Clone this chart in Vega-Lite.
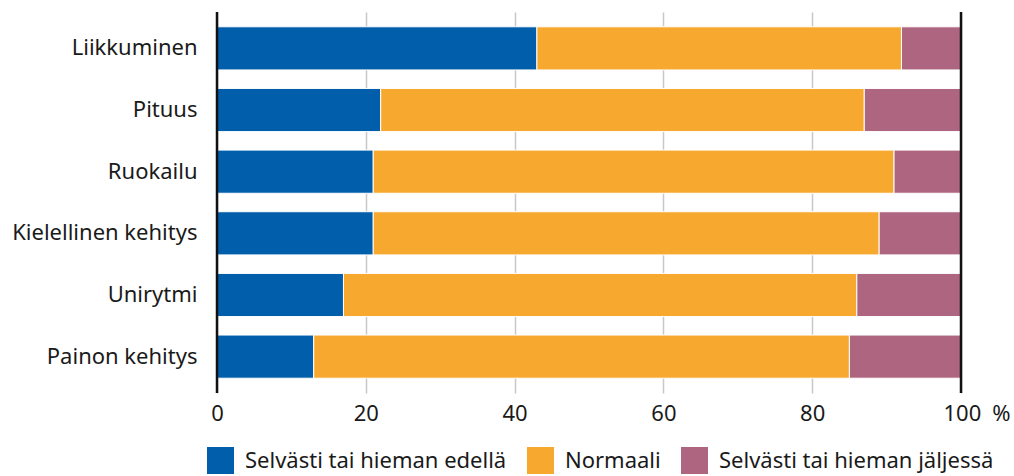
{
  "$schema": "https://vega.github.io/schema/vega-lite/v6.json",
  "autosize": {"type": "none"},
  "padding": {"left": 217, "top": 12, "right": 53, "bottom": 83},
  "width": 744,
  "height": 381,
  "config": {
    "font": "Noto Sans",
    "view": {"stroke": null}
  },
  "datasets": {
    "bars": [
      {"kohde": "Liikkuminen", "luokka": "Selvästi tai hieman edellä", "jarj": 1, "arvo": 43},
      {"kohde": "Liikkuminen", "luokka": "Normaali", "jarj": 2, "arvo": 49},
      {"kohde": "Liikkuminen", "luokka": "Selvästi tai hieman jäljessä", "jarj": 3, "arvo": 8},
      {"kohde": "Pituus", "luokka": "Selvästi tai hieman edellä", "jarj": 1, "arvo": 22},
      {"kohde": "Pituus", "luokka": "Normaali", "jarj": 2, "arvo": 65},
      {"kohde": "Pituus", "luokka": "Selvästi tai hieman jäljessä", "jarj": 3, "arvo": 13},
      {"kohde": "Ruokailu", "luokka": "Selvästi tai hieman edellä", "jarj": 1, "arvo": 21},
      {"kohde": "Ruokailu", "luokka": "Normaali", "jarj": 2, "arvo": 70},
      {"kohde": "Ruokailu", "luokka": "Selvästi tai hieman jäljessä", "jarj": 3, "arvo": 9},
      {"kohde": "Kielellinen kehitys", "luokka": "Selvästi tai hieman edellä", "jarj": 1, "arvo": 21},
      {"kohde": "Kielellinen kehitys", "luokka": "Normaali", "jarj": 2, "arvo": 68},
      {"kohde": "Kielellinen kehitys", "luokka": "Selvästi tai hieman jäljessä", "jarj": 3, "arvo": 11},
      {"kohde": "Unirytmi", "luokka": "Selvästi tai hieman edellä", "jarj": 1, "arvo": 17},
      {"kohde": "Unirytmi", "luokka": "Normaali", "jarj": 2, "arvo": 69},
      {"kohde": "Unirytmi", "luokka": "Selvästi tai hieman jäljessä", "jarj": 3, "arvo": 14},
      {"kohde": "Painon kehitys", "luokka": "Selvästi tai hieman edellä", "jarj": 1, "arvo": 13},
      {"kohde": "Painon kehitys", "luokka": "Normaali", "jarj": 2, "arvo": 72},
      {"kohde": "Painon kehitys", "luokka": "Selvästi tai hieman jäljessä", "jarj": 3, "arvo": 15}
    ],
    "edges": [{"x": 0}, {"x": 100}]
  },
  "layer": [
    {
      "data": {"name": "bars"},
      "mark": {"type": "bar", "stroke": "white", "strokeWidth": 1},
      "encoding": {
        "y": {
          "field": "kohde", "type": "nominal", "sort": null,
          "scale": {"paddingInner": 0.3, "paddingOuter": 0.24},
          "axis": {"title": null, "domain": false, "ticks": false, "labelPadding": 20, "labelFontSize": 22, "labelColor": "#1a1a1a", "labelLimit": 300}
        },
        "x": {
          "field": "arvo", "type": "quantitative", "stack": "zero",
          "scale": {"domain": [0, 100], "nice": false},
          "axis": {
            "title": null, "domain": false, "ticks": false, "grid": true,
            "gridColor": "#c8c8c8", "gridWidth": 1.5,
            "values": [0, 20, 40, 60, 80, 100],
            "labelFontSize": 22, "labelColor": "#1a1a1a", "labelPadding": 10,
            "labelExpr": "datum.value == 100 ? '100\u2002%' : datum.label",
            "labelAlign": {"condition": {"test": "datum.value == 100", "value": "left"}, "value": "center"},
            "labelOffset": {"condition": {"test": "datum.value == 100", "value": -18}, "value": 0}
          }
        },
        "order": {"field": "jarj", "type": "quantitative"},
        "color": {
          "field": "luokka", "type": "nominal",
          "sort": ["Selvästi tai hieman edellä", "Normaali", "Selvästi tai hieman jäljessä"],
          "scale": {
            "domain": ["Selvästi tai hieman edellä", "Normaali", "Selvästi tai hieman jäljessä"],
            "range": ["#005EAA", "#F7A92F", "#AE6680"]
          },
          "legend": {
            "title": null, "orient": "none", "direction": "horizontal",
            "legendX": -10, "legendY": 435,
            "symbolType": "square", "symbolSize": 729, "symbolStrokeWidth": 0, "symbolOpacity": 1,
            "labelFontSize": 22, "labelColor": "#1a1a1a", "labelOffset": 11, "labelLimit": 400,
            "columnPadding": 20
          }
        }
      }
    },
    {
      "data": {"name": "edges"},
      "mark": {"type": "rule", "color": "#111111", "strokeWidth": 2.5},
      "encoding": {
        "x": {"field": "x", "type": "quantitative"}
      }
    }
  ]
}
